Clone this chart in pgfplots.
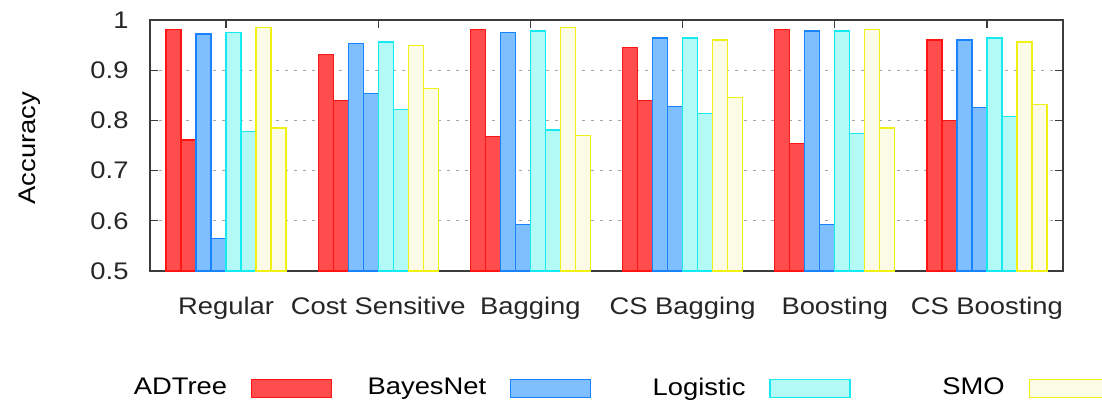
\documentclass[border=0pt]{standalone}
\usepackage{pgfplots}
\usepackage{pgfplotstable}
\pgfplotsset{compat=1.18}
\usepackage{fontspec}
\setmainfont{Liberation Sans}[FakeStretch=1.14]
\newcommand\f{\fontsize{24}{29}\selectfont}
\definecolor{rfill}{RGB}{255,77,77}
\definecolor{rdraw}{RGB}{255,20,20}
\definecolor{bfill}{RGB}{128,191,255}
\definecolor{bdraw}{RGB}{25,130,255}
\definecolor{cfill}{RGB}{179,249,245}
\definecolor{cdraw}{RGB}{20,235,240}
\definecolor{yfill}{RGB}{252,252,230}
\definecolor{ydraw}{RGB}{240,240,20}
\definecolor{axc}{RGB}{60,60,60}
\pgfplotstableread{
x a1 a2 b1 b2 c1 c2 d1 d2
0 0.981 0.761 0.972 0.564 0.975 0.778 0.985 0.785
1 0.932 0.840 0.953 0.853 0.956 0.821 0.950 0.864
2 0.981 0.768 0.975 0.592 0.978 0.781 0.985 0.770
3 0.946 0.840 0.964 0.827 0.964 0.813 0.960 0.845
4 0.981 0.754 0.978 0.592 0.978 0.774 0.981 0.785
5 0.960 0.800 0.960 0.825 0.964 0.807 0.956 0.831
}\data
\begin{document}
\begin{tikzpicture}
\useasboundingbox (0,0) rectangle (1102pt,405pt);
\begin{axis}[
  at={(150pt,134pt)}, anchor=south west,
  scale only axis, width=913pt, height=251pt,
  xmin=-0.5, xmax=5.5, ymin=0.5, ymax=1,
  ybar, bar width=0.0986,
  xtick={0,...,5},
  xticklabels={Regular,Cost Sensitive,Bagging,CS Bagging,Boosting,CS Boosting},
  xtick pos=right, xticklabel pos=left,
  ytick={0.5,0.6,...,1.0},
  ytick pos=both, yticklabel pos=left,
  tick align=inside, major tick length=8pt,
  /pgf/number format/assume math mode=true,
  tick label style={font=\f, text=black!85},
  xticklabel style={yshift=-23pt},
  yticklabel style={xshift=-18pt},
  ylabel={Accuracy},
  ylabel style={font=\f, at={(axis description cs:-0.1314,0.49)}, anchor=center},
  axis line style={line width=1.3pt, draw=axc},
  major tick style={line width=1.3pt, draw=axc},
  ymajorgrids, grid style={dash pattern=on 3pt off 6pt, draw=gray!70, line width=1.3pt},
  legend columns=4, legend plot pos=right,
  legend image code/.code={\draw[#1,line width=1.2pt] (0pt,-10.5pt) rectangle (80pt,7.5pt);},
  legend style={at={(axis description cs:-0.058,-0.466)}, anchor=west, draw=none, fill=none,
    inner sep=0pt, outer sep=0pt, font=\f, nodes={inner sep=0pt},
    /tikz/every odd column/.append style={column sep=24pt},
    /tikz/every even column/.append style={column sep=24pt}},
  every axis plot/.append style={line width=1.2pt},
]
\addplot[fill=rfill, draw=rdraw, bar shift=-0.2465, forget plot] table[x=x,y=a2]{\data};
\addplot[fill=rfill, draw=rdraw, bar shift=-0.3451] table[x=x,y=a1]{\data};
\addlegendentry{\makebox[130pt][r]{ADTree}}
\addplot[fill=bfill, draw=bdraw, bar shift=-0.0493, forget plot] table[x=x,y=b2]{\data};
\addplot[fill=bfill, draw=bdraw, bar shift=-0.1479] table[x=x,y=b1]{\data};
\addlegendentry{\makebox[130pt][r]{BayesNet}}
\addplot[fill=cfill, draw=cdraw, bar shift=0.1479, forget plot] table[x=x,y=c2]{\data};
\addplot[fill=cfill, draw=cdraw, bar shift=0.0493] table[x=x,y=c1]{\data};
\addlegendentry{\makebox[130pt][r]{Logistic}}
\addplot[fill=yfill, draw=ydraw, bar shift=0.3451, forget plot] table[x=x,y=d2]{\data};
\addplot[fill=yfill, draw=ydraw, bar shift=0.2465] table[x=x,y=d1]{\data};
\addlegendentry{\makebox[130pt][r]{SMO}}
\end{axis}
\end{tikzpicture}
\end{document}
